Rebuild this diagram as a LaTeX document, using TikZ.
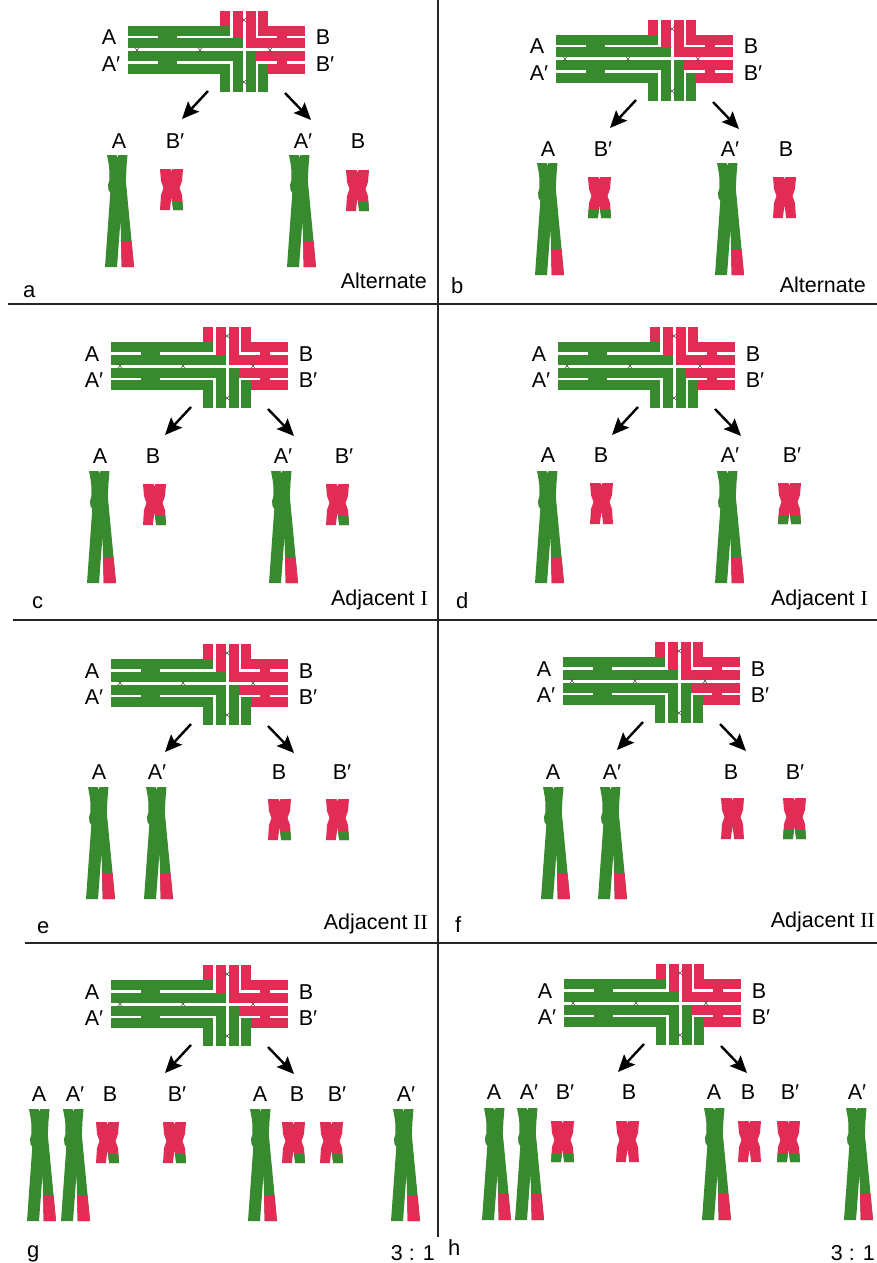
\documentclass[tikz,border=0pt]{standalone}
\usepackage{fontspec}
\setmainfont{Liberation Sans}
\newfontfamily\romfont{Liberation Serif}
\usetikzlibrary{arrows.meta}
\definecolor{chgreen}{RGB}{56,138,46}
\definecolor{chred}{RGB}{226,44,86}
\tikzset{
  lbl/.style={font=\fontsize{21.5}{24}\selectfont, inner sep=0pt, anchor=base},
  rlbl/.style={font=\fontsize{21.5}{24}\selectfont, inner sep=0pt, anchor=base east},
  plbl/.style={font=\fontsize{22}{24}\selectfont, inner sep=0pt, anchor=base west},
  divline/.style={line width=2pt, draw=black!85},
  segarrow/.style={line width=2.4pt, -{Stealth[length=17pt,width=15pt,inset=3pt]}},
  xmark/.style={line width=0.5pt, draw=black!70},
}
\newcommand{\pr}{\rlap{′}}
% quadrivalent: #1 cx, #2 cy, #3 name
\newcommand{\quadri}[3]{%
\begin{scope}[shift={(#1,#2)}]
 % A (top-left)
 \fill[chgreen] (-116,-24) rectangle (-14,-14);
 \fill[chred]   (-24,-39) rectangle (-14,-24);
 \fill[chgreen] (-116,-11.5) rectangle (-1.5,-1.5);
 \fill[chred]   (-11.5,-39) rectangle (-1.5,-11.5);
 % B (top-right)
 \fill[chred] (14,-24) rectangle (61,-14);
 \fill[chred] (14,-39) rectangle (24,-24);
 \fill[chred] (1.5,-11.5) rectangle (61,-1.5);
 \fill[chred] (1.5,-39) rectangle (11.5,-11.5);
 % A' (bottom-left)
 \fill[chgreen] (-116,14) rectangle (-14,24);
 \fill[chgreen] (-24,24) rectangle (-14,42);
 \fill[chgreen] (-116,1.5) rectangle (-1.5,11.5);
 \fill[chgreen] (-11.5,11.5) rectangle (-1.5,42);
 % B' (bottom-right)
 \fill[chred] (24,14) rectangle (61,24);
 \fill[chgreen] (14,14) rectangle (24,42);
 \fill[chred] (11.5,1.5) rectangle (61,11.5);
 \fill[chgreen] (1.5,1.5) rectangle (11.5,42);
 % centromeres
 \fill[chgreen] (-86,-14.2) rectangle (-67,-11.3);
 \fill[chgreen] (-86,11.3) rectangle (-67,14.2);
 \fill[chred] (33,-14.2) rectangle (43,-11.3);
 \fill[chred] (33,11.3) rectangle (43,14.2);
 % chiasmata
 \foreach \mx/\my in {-107/0,-44/0,26/0,0/-30,0/32}{
   \draw[xmark] (\mx-2,\my-2) -- (\mx+2,\my+2) (\mx-2,\my+2) -- (\mx+2,\my-2);}
 \node[lbl] (#3-A)  at (-135,-5)   {A};
 \node[lbl] (#3-Ap) at (-135,21.5) {A\pr};
 \node[lbl] (#3-B)  at (79,-5)     {B};
 \node[lbl] (#3-Bp) at (79,21.5)   {B\pr};
 \coordinate (#3-l0) at (-36,41); \coordinate (#3-l1) at (-62,69);
 \coordinate (#3-r0) at (41,43);  \coordinate (#3-r1) at (67,70);
 \draw[segarrow] (#3-l0) -- (#3-l1);
 \draw[segarrow] (#3-r0) -- (#3-r1);
\end{scope}}
% long chromosome: top-left x, top y
\newcommand{\longchr}[2]{%
\begin{scope}[shift={(#1,#2)}]
 \begin{scope}
 \clip (0,0) -- (9.5,0) -- (10.5,2.5) -- (11.5,0) -- (20.5,0) -- (19.5,12) -- (18.8,26) -- (19.8,36) -- (27,112) -- (14.7,112) -- (13.5,65) -- (10,112) -- (-2,112) -- (3.3,38) -- (1.5,35) -- (1,30) -- (2.5,25) -- (2.2,12) -- cycle;
 \fill[chgreen] (-3,-1) rectangle (29,113);
 \fill[chred] (13,86) rectangle (29,113);
 \end{scope}
\end{scope}}
% small chromosome: x, y, mode (0 red, 1 green right tip, 2 green both tips)
\newcommand{\smallchr}[3]{%
\begin{scope}[shift={(#1,#2)}]
 \begin{scope}
 \clip (0,0) -- (10.5,0) -- (11.5,2.5) -- (12.5,0) -- (23,0) -- (22,12) -- (19.5,19) -- (22,26) -- (23,41) -- (13.2,41) -- (11.5,28) -- (9.8,41) -- (0,41) -- (1,26) -- (3.5,19) -- (1,12) -- cycle;
 \fill[chred] (-1,-1) rectangle (24,42);
 \ifcase#3\or\fill[chgreen] (11.6,31.5) rectangle (24,42);\or\fill[chgreen] (-1,31.5) rectangle (24,42);\fi
 \end{scope}
\end{scope}}
\begin{document}
\begin{tikzpicture}[x=1pt,y=-1pt]
\useasboundingbox (0,0) rectangle (877,1263);
\fill[white] (0,0) rectangle (877,1263);
% dividers
\draw[divline] (437.5,0) -- (437.5,1237);
\draw[divline] (8,304) -- (877,304);
\draw[divline] (13,620) -- (877,620);
\draw[divline] (25,943) -- (877,943);

% ---------- panel a ----------
\quadri{244}{50}{a}
\node[lbl] (a-c1) at (119,148) {A};
\node[lbl] (a-c2) at (173,148) {B\pr};
\node[lbl] (a-c3) at (301,148) {A\pr};
\node[lbl] (a-c4) at (358,148) {B};
\longchr{107}{155}
\smallchr{160}{169}{1}
\longchr{289}{155}
\smallchr{346}{170}{1}
\node[plbl] (a-tag) at (23,297) {a};
\node[rlbl] (a-type) at (427,288) {Alternate};

% ---------- panel b ----------
\quadri{672}{59}{b}
\node[lbl] (b-c1) at (548,156) {A};
\node[lbl] (b-c2) at (601,156) {B\pr};
\node[lbl] (b-c3) at (728,156) {A\pr};
\node[lbl] (b-c4) at (786,156) {B};
\longchr{537}{163}
\smallchr{588}{177}{2}
\longchr{717}{163}
\smallchr{773}{177}{0}
\node[plbl] (b-tag) at (451,293) {b};
\node[rlbl] (b-type) at (866,292) {Alternate};

% ---------- panel c ----------
\quadri{227}{366}{c}
\node[lbl] (c-c1) at (100,463) {A};
\node[lbl] (c-c2) at (153,463) {B};
\node[lbl] (c-c3) at (281,463) {A\pr};
\node[lbl] (c-c4) at (342,463) {B\pr};
\longchr{89}{471}
\smallchr{143}{484}{1}
\longchr{271}{471}
\smallchr{326}{484}{1}
\node[plbl] (c-tag) at (32,608) {c};
\node[rlbl] (c-type) at (428,605) {Adjacent {\romfont I}};

% ---------- panel d ----------
\quadri{674}{366}{d}
\node[lbl] (d-c1) at (548,462) {A};
\node[lbl] (d-c2) at (601,462) {B};
\node[lbl] (d-c3) at (728,462) {A\pr};
\node[lbl] (d-c4) at (790,462) {B\pr};
\longchr{537}{471}
\smallchr{590}{483}{0}
\longchr{717}{471}
\smallchr{778}{483}{2}
\node[plbl] (d-tag) at (456,608) {d};
\node[rlbl] (d-type) at (868,605) {Adjacent {\romfont I}};

% ---------- panel e ----------
\quadri{227}{683}{e}
\node[lbl] (e-c1) at (99,779) {A};
\node[lbl] (e-c2) at (155,779) {A\pr};
\node[lbl] (e-c3) at (279,779) {B};
\node[lbl] (e-c4) at (340,779) {B\pr};
\longchr{88}{787}
\longchr{146}{787}
\smallchr{268}{799}{1}
\smallchr{326}{799}{1}
\node[plbl] (e-tag) at (37,933) {e};
\node[rlbl] (e-type) at (428,929) {Adjacent {\romfont II}};

% ---------- panel f ----------
\quadri{679}{681}{f}
\node[lbl] (f-c1) at (553,779) {A};
\node[lbl] (f-c2) at (610,779) {A\pr};
\node[lbl] (f-c3) at (731,779) {B};
\node[lbl] (f-c4) at (793,779) {B\pr};
\longchr{543}{787}
\longchr{600}{787}
\smallchr{721}{798}{0}
\smallchr{783}{798}{2}
\node[plbl] (f-tag) at (455,932) {f};
\node[rlbl] (f-type) at (875,927) {Adjacent {\romfont II}};

% ---------- panel g ----------
\quadri{227}{1004}{g}
\node[lbl] (g-c1) at (39,1101) {A};
\node[lbl] (g-c2) at (73,1101) {A\pr};
\node[lbl] (g-c3) at (110,1101) {B};
\node[lbl] (g-c4) at (175,1101) {B\pr};
\node[lbl] (g-c5) at (260,1101) {A};
\node[lbl] (g-c6) at (297,1101) {B};
\node[lbl] (g-c7) at (335,1101) {B\pr};
\node[lbl] (g-c8) at (404,1101) {A\pr};
\longchr{29}{1109}
\longchr{63}{1109}
\smallchr{96}{1122}{1}
\smallchr{163}{1122}{1}
\longchr{250}{1109}
\smallchr{282}{1122}{1}
\smallchr{320}{1122}{1}
\longchr{393}{1109}
\node[plbl] (g-tag) at (27,1257) {g};
\node[rlbl] (g-type) at (435,1260) {3 : 1};

% ---------- panel h ----------
\quadri{680}{1003}{h}
\node[lbl] (h-c1) at (494,1099) {A};
\node[lbl] (h-c2) at (527,1099) {A\pr};
\node[lbl] (h-c3) at (563,1099) {B\pr};
\node[lbl] (h-c4) at (629,1099) {B};
\node[lbl] (h-c5) at (714,1099) {A};
\node[lbl] (h-c6) at (748,1099) {B};
\node[lbl] (h-c7) at (788,1099) {B\pr};
\node[lbl] (h-c8) at (855,1099) {A\pr};
\longchr{484}{1108}
\longchr{517}{1108}
\smallchr{551}{1121}{2}
\smallchr{616}{1121}{0}
\longchr{704}{1108}
\smallchr{738}{1121}{0}
\smallchr{777}{1121}{2}
\longchr{846}{1108}
\node[plbl] (h-tag) at (448,1255) {h};
\node[rlbl] (h-type) at (875,1260) {3 : 1};
\end{tikzpicture}
\end{document}
